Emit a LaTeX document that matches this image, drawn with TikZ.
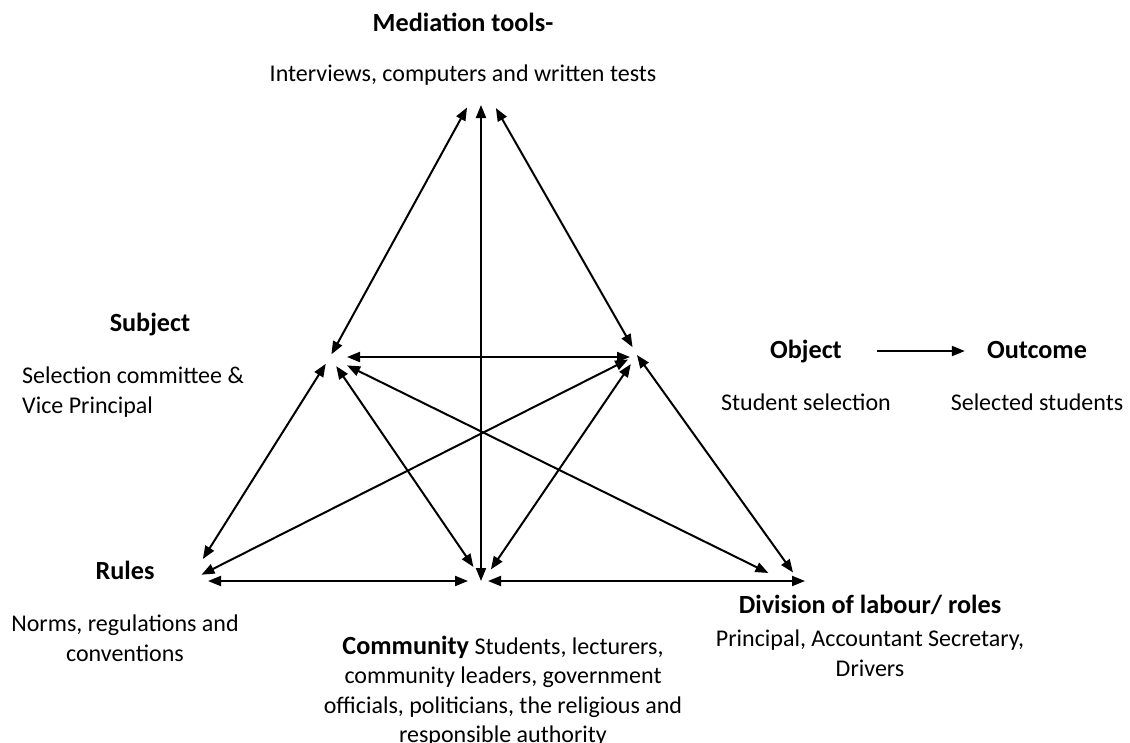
\documentclass[tikz,border=0pt]{standalone}
\usepackage{fontspec}
\setmainfont{Carlito}
\usetikzlibrary{arrows.meta}

\begin{document}
\begin{tikzpicture}[x=1pt, y=-1pt,
		every node/.style={inner sep=0pt, font=\fontsize{24}{29.3}\selectfont},
		ttl/.style={font=\fontsize{26.2}{29.3}\selectfont\bfseries, anchor=base},
		txt/.style={anchor=base},
		twoway/.style={line width=2pt, {Triangle[length=13pt,width=10pt]}-{Triangle[length=13pt,width=10pt]}},
		oneway/.style={line width=2pt, -{Triangle[length=13pt,width=10pt]}}]
		%%%%% START %%%%%
		\useasboundingbox (0, 0) rectangle (1130, 742);
		
		% corners
		\coordinate (M) at (481, 82);
		\coordinate (S) at (330, 357);
		\coordinate (O) at (637, 355);
		\coordinate (R) at (189, 581);
		\coordinate (C) at (483, 581);
		\coordinate (D) at (807, 592);
		
		% labels
		\node[ttl] (Mt) at (463, 31) {Mediation tools-};
		\node[txt] (Md) at (463, 81) {Interviews, computers and written tests};
		
		\node[ttl] (St) at (150, 331) {Subject};
		\node[anchor=north west, align=left] (Sd) at (22, 367) {Selection committee \&\\Vice Principal};
		
		\node[ttl] (Ot) at (806, 358) {Object};
		\node[txt] (Od) at (806, 410) {Student selection};
		\node[ttl] (Oc) at (1037, 358) {Outcome};
		\node[txt] (Ocd) at (1037, 410) {Selected students};
		
		\node[ttl] (Rt) at (125, 579) {Rules};
		\node[anchor=north, align=center] (Rd) at (125, 615) {Norms, regulations and\\conventions};
		
		\node[anchor=north, align=center] (Cd) at (503, 636) {{\fontsize{26.2}{29.3}\selectfont\bfseries Community} Students, lecturers,\\community leaders, government\\officials, politicians, the religious and\\responsible authority};
		
		\node[ttl] (Dt) at (870, 613) {Division of labour/ roles};
		\node[anchor=north, align=center] (Dd) at (870, 630) {Principal, Accountant Secretary,\\Drivers};
		
		% arrows
		\draw[twoway, shorten <=3pt, shorten >=29pt] (S) -- (M);
		\draw[twoway, shorten <=23pt] (M) -- (M |- C);
		\draw[twoway, shorten <=30pt, shorten >=9pt] (M) -- (O);
		\draw[twoway, shorten <=17pt, shorten >=7pt] (S) -- (S -| O);
		\draw[twoway, shorten <=8pt, shorten >=26pt] (S) -- (R);
		\draw[twoway, shorten <=11pt, shorten >=17pt] (S) -- (C);
		\draw[twoway, shorten <=19pt, shorten >=43pt] (S) -- (D);
		\draw[twoway, shorten <=10pt, shorten >=14pt] (O) -- (R);
		\draw[twoway, shorten <=11pt, shorten >=14pt] (O) -- (C);
		\draw[twoway, shorten >=24pt] (O) -- (D);
		\draw[twoway, shorten <=19pt, shorten >=15pt] (R) -- (C);
		\draw[twoway, shorten <=5pt, shorten >=2pt] (C) -- (C -| D);
		
		\draw[oneway, shorten <=35pt, shorten >=22pt] (Ot.east) -- (Ot.east -| Oc.west);
		%%%%% END %%%%%
\end{tikzpicture}
\end{document}
